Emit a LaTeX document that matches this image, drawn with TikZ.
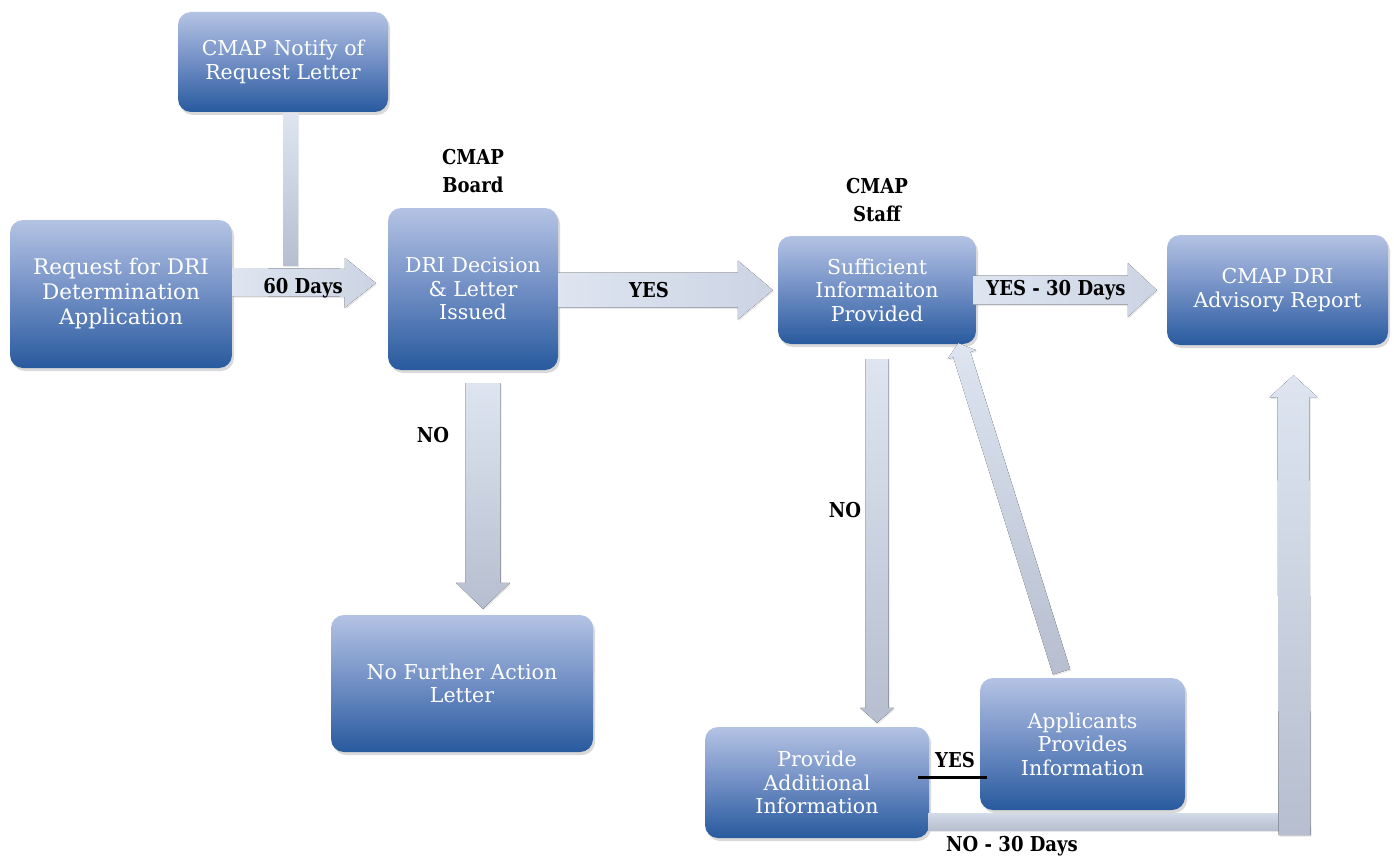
\documentclass[tikz,border=0pt]{standalone}
\usepackage{fontspec}
\setmainfont{DejaVu Serif}
\newfontfamily\lblfont[FakeStretch=0.88]{DejaVu Serif}
\usetikzlibrary{shadows,calc}
\definecolor{boxtop}{RGB}{180,195,228}
\definecolor{boxmid}{RGB}{112,142,196}
\definecolor{boxbot}{RGB}{40,90,158}
\definecolor{arrlight}{RGB}{222,229,241}
\definecolor{arrmid}{RGB}{208,215,230}
\definecolor{arrdark}{RGB}{182,190,207}
\tikzset{
  box/.style={rectangle, rounded corners=13pt, top color=boxtop, bottom color=boxbot, middle color=boxmid,
    text=white, align=center, inner sep=0pt,
    font=\fontsize{20.5}{23.5}\selectfont,
    drop shadow={shadow xshift=2pt, shadow yshift=-3pt, opacity=0.3}},
  lbl/.style={text=black, align=center, inner sep=0pt, font=\lblfont\bfseries\fontsize{20.5}{28}\selectfont},
  arrshadow/.style={drop shadow={shadow xshift=1pt, shadow yshift=-1.5pt, opacity=0.18}},
  arrv/.style={top color=arrlight, bottom color=arrdark, arrshadow},
  arrh/.style={left color=arrlight, right color=arrmid!85!arrdark, arrshadow},
  yesline/.style={line width=3pt, black}
}
% block arrow: [style] from, to, shaft half width, head half width, head length
\newcommand{\blockarrow}[6][arrv]{%
  \path let \p1=($(#3)-(#2)$) in \pgfextra{\xdef\bax{\x1}\xdef\bay{\y1}};
  \pgfmathsetmacro\baang{atan2(\bay,\bax)}%
  \pgfmathsetmacro\balen{veclen(\bax,\bay)}%
  \begin{scope}[shift={(#2)}, rotate=\baang]
    \fill[#1] (0pt,#4pt) -- (\balen pt-#6pt,#4pt) -- (\balen pt-#6pt,#5pt) -- (\balen pt,0pt)
      -- (\balen pt-#6pt,-#5pt) -- (\balen pt-#6pt,-#4pt) -- (0pt,-#4pt) -- cycle;
  \end{scope}
}
\begin{document}
\begin{tikzpicture}[x=1pt,y=-1pt]
\useasboundingbox (0,0) rectangle (1394,856);
% boxes
\node[box, minimum width=210pt, minimum height=100pt] (notify) at (283,62) {CMAP Notify of\\Request Letter};
\node[box, minimum width=222pt, minimum height=148pt, font=\fontsize{21.5}{25}\selectfont] (req) at (121,294) {Request for DRI\\Determination\\Application};
\node[box, minimum width=170pt, minimum height=162pt] (dri) at (473,289) {DRI Decision\\\& Letter\\Issued};
\node[box, minimum width=198pt, minimum height=108pt] (suff) at (877,290) {Sufficient\\Informaiton\\Provided};
\node[box, minimum width=221pt, minimum height=110pt] (adv) at (1277.5,290) {CMAP DRI\\Advisory Report};
\node[box, minimum width=262pt, minimum height=137pt] (nfa) at (462,683.5) {No Further Action\\Letter};
\node[box, minimum width=224pt, minimum height=111pt] (prov) at (817,782.5) {Provide\\Additional\\Information};
\node[box, minimum width=205pt, minimum height=132pt] (appl) at (1082.5,744) {Applicants\\Provides\\Information};

% helper coordinates
\coordinate (upbase) at ($(adv.south)+(17,490)$);

% connectors
\fill[arrv] ($(notify.south)+(0,1)$) rectangle ($(notify.south)+(15,153)$);
\blockarrow[arrh]{$(req.east)+(0,-12)$}{$(dri.west)+(-12,-6)$}{14}{25}{31}
\blockarrow[arrh]{$(dri.east)+(0,1)$}{$(suff.west)+(-5,0)$}{17.5}{29.5}{35}
\blockarrow[arrh]{$(suff.east)+(-3,0)$}{$(adv.west)+(-10,0)$}{14.5}{27}{29}
\blockarrow{$(dri.south)+(10,13)$}{$(nfa.north)+(21,-6)$}{17.5}{27}{26}
\blockarrow{$(suff.south)+(0,15)$}{$(prov.north)+(60,-4)$}{11.5}{17}{15}
\blockarrow{$(appl.north)+(-21,-6)$}{$(suff.south east)+(-18,-1)$}{9}{15}{12}
\fill[top color=arrlight!70!arrdark, bottom color=arrdark, arrshadow]
  ($(prov.east)+(-1,31)$) rectangle ($(upbase)+(-15,-5)$);
\blockarrow{upbase}{$(adv.south)+(16,30)$}{16}{24}{22}

\draw[yesline] ($(prov.east)+(-11,-5.5)$) -- ($(appl.west)+(7,33)$);

% labels
\node[lbl] (lboard) at ($(dri.north)+(0,-37)$) {CMAP\\Board};
\node[lbl] (lstaff) at ($(suff.north)+(0,-36)$) {CMAP\\Staff};
\node[lbl] (l60) at (303,288) {60 Days};
\node[lbl] (lyes1) at (649,290) {YES};
\node[lbl] (lyes30) at (1056,290) {YES - 30 Days};
\node[lbl] (lno1) at (433,435) {NO};
\node[lbl] (lno2) at (845,510) {NO};
\node[lbl] (lyes2) at (955,760) {YES};
\node[lbl] (lno30) at (1012,846) {NO - 30 Days};
\end{tikzpicture}
\end{document}
